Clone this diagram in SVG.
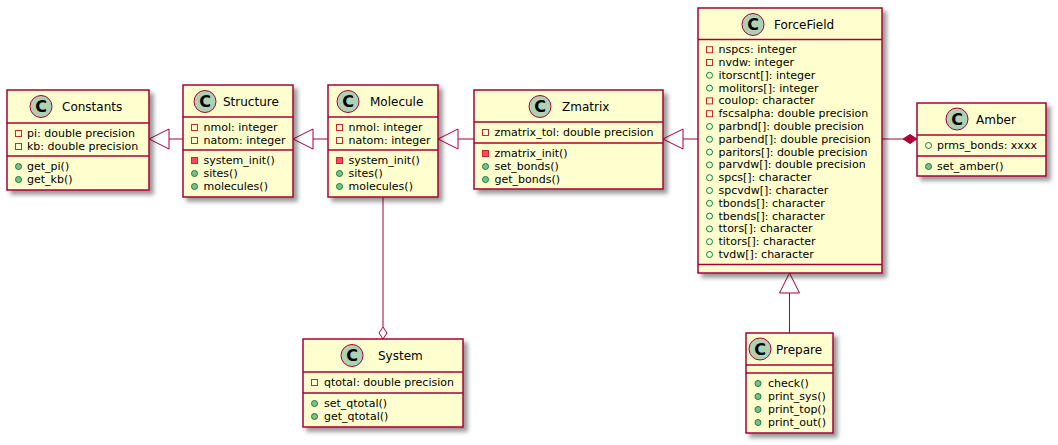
<svg xmlns="http://www.w3.org/2000/svg" xmlns:xlink="http://www.w3.org/1999/xlink" width="1058" height="445" viewBox="0 0 1058 445">
  <style>
    .box { fill: #FEFECE; stroke: #A80036; stroke-width: 1.5; filter: url(#shadow); }
    .sep { stroke: #A80036; stroke-width: 1.5; }
    .spot { fill: #ADD1B2; stroke: #A80036; stroke-width: 1; }
    .spotc { font-family: "DejaVu Sans", "Liberation Sans", sans-serif; font-size: 16px; font-weight: bold; text-anchor: middle; fill: #000000; }
    .name { font-family: "DejaVu Sans", "Liberation Sans", sans-serif; font-size: 12px; fill: #000000; }
    .m { font-family: "DejaVu Sans", "Liberation Sans", sans-serif; font-size: 11px; fill: #000000; }
    .edge { stroke: #A80036; stroke-width: 1; fill: none; }
    .head { stroke: #A80036; stroke-width: 1; fill: #FFFFFF; }
    .headf { stroke: #A80036; stroke-width: 1; fill: #A80036; }
  </style>
  <defs>
    <filter id="shadow" x="-20%" y="-20%" width="150%" height="150%">
      <feGaussianBlur in="SourceAlpha" stdDeviation="2" result="blur"/>
      <feColorMatrix in="blur" type="matrix" values="0 0 0 0 0  0 0 0 0 0  0 0 0 0 0  0 0 0 0.4 0" result="tint"/>
      <feOffset in="tint" dx="4" dy="4" result="off"/>
      <feMerge><feMergeNode in="off"/><feMergeNode in="SourceGraphic"/></feMerge>
    </filter>
    <!-- visibility markers, centred on 0,0 -->
    <rect id="privField" x="-3" y="-3" width="6" height="6" fill="none" stroke="#C82930" stroke-width="1"/>
    <rect id="privMethod" x="-3" y="-3" width="6" height="6" fill="#F24D5C" stroke="#C82930" stroke-width="1"/>
    <circle id="pubField" cx="0" cy="0" r="3" fill="none" stroke="#038048" stroke-width="1"/>
    <circle id="pubMethod" cx="0" cy="0" r="3" fill="#84BE84" stroke="#038048" stroke-width="1"/>
  </defs>

  <rect width="1058" height="445" fill="#FFFFFF"/>

  <!-- connectors -->
  <g id="connectors">
    <!-- Structure extends Constants -->
    <line class="edge" x1="169" y1="139" x2="183" y2="139"/>
    <polygon class="head" points="149,139 169,129 169,149"/>
    <!-- Molecule extends Structure -->
    <line class="edge" x1="313" y1="139" x2="328" y2="139"/>
    <polygon class="head" points="293,139 313,129 313,149"/>
    <!-- Zmatrix extends Molecule -->
    <line class="edge" x1="458" y1="139" x2="474" y2="139"/>
    <polygon class="head" points="438,139 458,129 458,149"/>
    <!-- ForceField extends Zmatrix -->
    <line class="edge" x1="683" y1="139" x2="698" y2="139"/>
    <polygon class="head" points="663,139 683,129 683,149"/>
    <!-- ForceField composed into Amber -->
    <line class="edge" x1="882" y1="139" x2="903" y2="139"/>
    <polygon class="headf" points="917,139 910,134.5 903,139 910,143.5"/>
    <!-- Molecule aggregated into System -->
    <line class="edge" x1="383" y1="197" x2="383" y2="327"/>
    <polygon class="head" points="383,339 387,333 383,327 379,333"/>
    <!-- Prepare extends ForceField -->
    <line class="edge" x1="789.5" y1="293" x2="789.5" y2="333"/>
    <polygon class="head" points="789.5,273 779.5,293 799.5,293"/>
  </g>

  <g id="Constants">
    <rect class="box" x="7" y="90" width="142" height="100"/>
    <circle class="spot" cx="41" cy="106.5" r="11"/>
    <text class="spotc" x="41" y="112.3">C</text>
    <text class="name" x="62" y="111">Constants</text>
    <line class="sep" x1="7" y1="123" x2="149" y2="123"/>
    <use href="#privField" x="18.5" y="133.5"/><text class="m" x="27" y="137">pi: double precision</text>
    <use href="#privField" x="18.5" y="146.5"/><text class="m" x="27" y="150">kb: double precision</text>
    <line class="sep" x1="7" y1="156" x2="149" y2="156"/>
    <use href="#pubMethod" x="18.5" y="166.5"/><text class="m" x="27" y="170">get_pi()</text>
    <use href="#pubMethod" x="18.5" y="179.5"/><text class="m" x="27" y="183">get_kb()</text>
  </g>

  <g id="Structure">
    <rect class="box" x="183" y="85" width="110" height="112"/>
    <circle class="spot" cx="205" cy="101.5" r="11"/>
    <text class="spotc" x="205" y="107.3">C</text>
    <text class="name" x="223" y="106">Structure</text>
    <line class="sep" x1="183" y1="117" x2="293" y2="117"/>
    <use href="#privField" x="194.5" y="127.5"/><text class="m" x="203.5" y="131">nmol: integer</text>
    <use href="#privField" x="194.5" y="140.5"/><text class="m" x="203.5" y="144">natom: integer</text>
    <line class="sep" x1="183" y1="150" x2="293" y2="150"/>
    <use href="#privMethod" x="194.5" y="160.5"/><text class="m" x="203.5" y="164">system_init()</text>
    <use href="#pubMethod" x="194.5" y="173.5"/><text class="m" x="203.5" y="177">sites()</text>
    <use href="#pubMethod" x="194.5" y="186.5"/><text class="m" x="203.5" y="190">molecules()</text>
  </g>

  <g id="Molecule">
    <rect class="box" x="328" y="85" width="110" height="112"/>
    <circle class="spot" cx="348" cy="101.5" r="11"/>
    <text class="spotc" x="348" y="107.3">C</text>
    <text class="name" x="370" y="106">Molecule</text>
    <line class="sep" x1="328" y1="117" x2="438" y2="117"/>
    <use href="#privField" x="339.5" y="127.5"/><text class="m" x="348.5" y="131">nmol: integer</text>
    <use href="#privField" x="339.5" y="140.5"/><text class="m" x="348.5" y="144">natom: integer</text>
    <line class="sep" x1="328" y1="150" x2="438" y2="150"/>
    <use href="#privMethod" x="339.5" y="160.5"/><text class="m" x="348.5" y="164">system_init()</text>
    <use href="#pubMethod" x="339.5" y="173.5"/><text class="m" x="348.5" y="177">sites()</text>
    <use href="#pubMethod" x="339.5" y="186.5"/><text class="m" x="348.5" y="190">molecules()</text>
  </g>

  <g id="Zmatrix">
    <rect class="box" x="474" y="90" width="189" height="99"/>
    <circle class="spot" cx="540" cy="106.5" r="11"/>
    <text class="spotc" x="540" y="112.3">C</text>
    <text class="name" x="562" y="111">Zmatrix</text>
    <line class="sep" x1="474" y1="122" x2="663" y2="122"/>
    <use href="#privField" x="485.5" y="132.5"/><text class="m" x="494.5" y="136">zmatrix_tol: double precision</text>
    <line class="sep" x1="474" y1="143" x2="663" y2="143"/>
    <use href="#privMethod" x="485.5" y="153.5"/><text class="m" x="494.5" y="157">zmatrix_init()</text>
    <use href="#pubMethod" x="485.5" y="166.5"/><text class="m" x="494.5" y="170">set_bonds()</text>
    <use href="#pubMethod" x="485.5" y="179.5"/><text class="m" x="494.5" y="183">get_bonds()</text>
  </g>

  <g id="ForceField">
    <rect class="box" x="698" y="8" width="184" height="265"/>
    <circle class="spot" cx="753" cy="24.5" r="11"/>
    <text class="spotc" x="753" y="30.3">C</text>
    <text class="name" x="774" y="29">ForceField</text>
    <line class="sep" x1="698" y1="39.5" x2="882" y2="39.5"/>
    <use href="#privField" x="709.5" y="49.7"/><text class="m" x="718.5" y="53.2">nspcs: integer</text>
    <use href="#privField" x="709.5" y="62.5"/><text class="m" x="718.5" y="66">nvdw: integer</text>
    <use href="#pubField" x="709.5" y="75.3"/><text class="m" x="718.5" y="78.8">itorscnt[]: integer</text>
    <use href="#pubField" x="709.5" y="88.1"/><text class="m" x="718.5" y="91.6">molitors[]: integer</text>
    <use href="#privField" x="709.5" y="100.9"/><text class="m" x="718.5" y="104.4">coulop: character</text>
    <use href="#privField" x="709.5" y="113.7"/><text class="m" x="718.5" y="117.2">fscsalpha: double precision</text>
    <use href="#pubField" x="709.5" y="126.5"/><text class="m" x="718.5" y="130">parbnd[]: double precision</text>
    <use href="#pubField" x="709.5" y="139.3"/><text class="m" x="718.5" y="142.8">parbend[]: double precision</text>
    <use href="#pubField" x="709.5" y="152.1"/><text class="m" x="718.5" y="155.6">paritors[]: double precision</text>
    <use href="#pubField" x="709.5" y="164.9"/><text class="m" x="718.5" y="168.4">parvdw[]: double precision</text>
    <use href="#pubField" x="709.5" y="177.7"/><text class="m" x="718.5" y="181.2">spcs[]: character</text>
    <use href="#pubField" x="709.5" y="190.5"/><text class="m" x="718.5" y="194">spcvdw[]: character</text>
    <use href="#pubField" x="709.5" y="203.3"/><text class="m" x="718.5" y="206.8">tbonds[]: character</text>
    <use href="#pubField" x="709.5" y="216.1"/><text class="m" x="718.5" y="219.6">tbends[]: character</text>
    <use href="#pubField" x="709.5" y="228.9"/><text class="m" x="718.5" y="232.4">ttors[]: character</text>
    <use href="#pubField" x="709.5" y="241.7"/><text class="m" x="718.5" y="245.2">titors[]: character</text>
    <use href="#pubField" x="709.5" y="254.5"/><text class="m" x="718.5" y="258">tvdw[]: character</text>
    <line class="sep" x1="698" y1="264.5" x2="882" y2="264.5"/>
  </g>

  <g id="Amber">
    <rect class="box" x="917" y="103" width="129" height="73"/>
    <circle class="spot" cx="957" cy="119" r="11"/>
    <text class="spotc" x="957" y="124.8">C</text>
    <text class="name" x="976" y="124">Amber</text>
    <line class="sep" x1="917" y1="135" x2="1046" y2="135"/>
    <use href="#pubField" x="928.5" y="145.5"/><text class="m" x="937" y="149">prms_bonds: xxxx</text>
    <line class="sep" x1="917" y1="156" x2="1046" y2="156"/>
    <use href="#pubMethod" x="928.5" y="166.5"/><text class="m" x="937" y="170">set_amber()</text>
  </g>

  <g id="System">
    <rect class="box" x="303" y="339" width="160" height="88"/>
    <circle class="spot" cx="352" cy="355.5" r="11"/>
    <text class="spotc" x="352" y="361.3">C</text>
    <text class="name" x="378" y="360">System</text>
    <line class="sep" x1="303" y1="372" x2="463" y2="372"/>
    <use href="#privField" x="314.5" y="382.5"/><text class="m" x="324" y="386">qtotal: double precision</text>
    <line class="sep" x1="303" y1="393" x2="463" y2="393"/>
    <use href="#pubMethod" x="314.5" y="403.5"/><text class="m" x="324" y="407">set_qtotal()</text>
    <use href="#pubMethod" x="314.5" y="416.5"/><text class="m" x="324" y="420">get_qtotal()</text>
  </g>

  <g id="Prepare">
    <rect class="box" x="746" y="333" width="87" height="100"/>
    <circle class="spot" cx="760" cy="349" r="11"/>
    <text class="spotc" x="760" y="354.8">C</text>
    <text class="name" x="776" y="354">Prepare</text>
    <line class="sep" x1="746" y1="365" x2="833" y2="365"/>
    <line class="sep" x1="746" y1="373" x2="833" y2="373"/>
    <use href="#pubMethod" x="758" y="383.5"/><text class="m" x="768" y="387">check()</text>
    <use href="#pubMethod" x="758" y="396.5"/><text class="m" x="768" y="400">print_sys()</text>
    <use href="#pubMethod" x="758" y="409.5"/><text class="m" x="768" y="413">print_top()</text>
    <use href="#pubMethod" x="758" y="422.5"/><text class="m" x="768" y="426">print_out()</text>
  </g>
</svg>
